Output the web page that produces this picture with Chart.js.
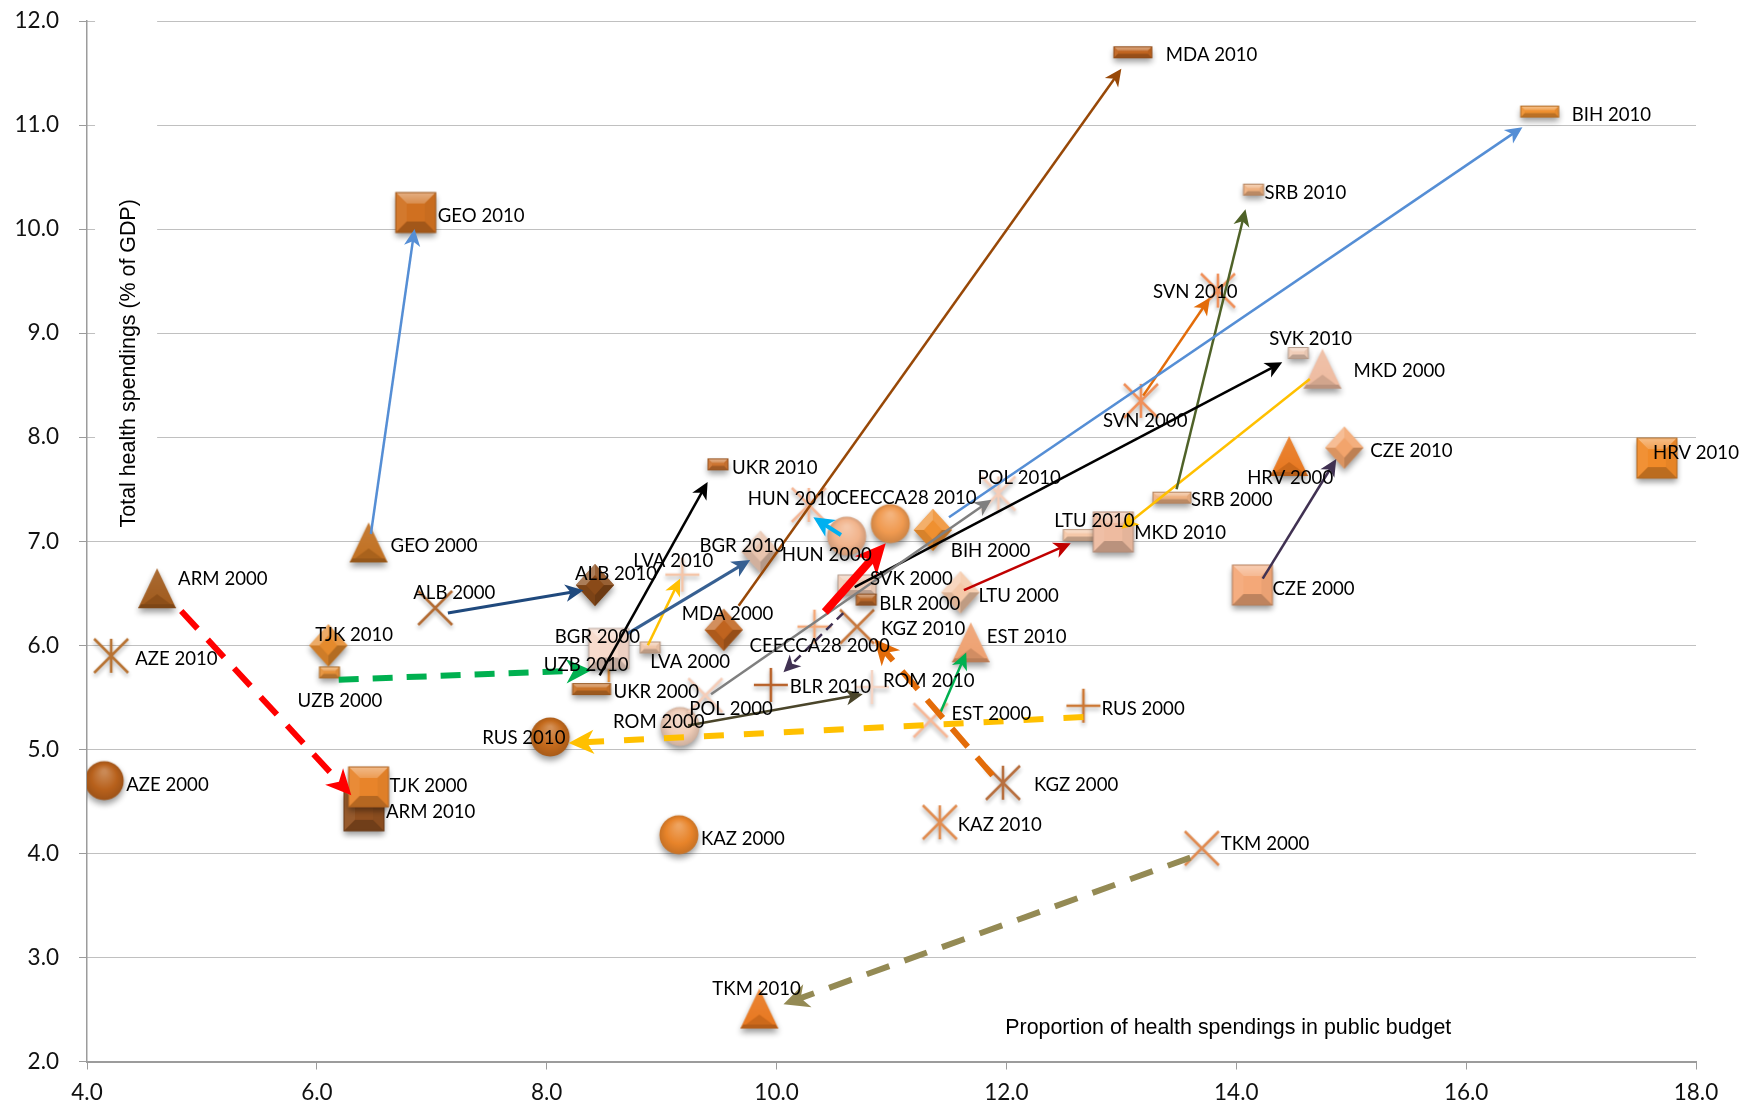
<!DOCTYPE html>
<html>
<head>
<meta charset="utf-8">
<title>Health spendings 2000-2010</title>
<script src="https://cdn.jsdelivr.net/npm/chart.js@4"></script>
<style>
  html, body { margin: 0; padding: 0; background: #fff; }
  canvas { display: block; }
</style>
</head>
<body>
<canvas id="chart" width="1740" height="1103"></canvas>
<script>
// values
const countries = ["AZE","ARM","GEO","TJK","UZB","UKR","ALB","BGR","LVA","MDA","RUS","ROM","POL","KAZ","TKM","HUN","CEECCA28","BIH","SVK","BLR","KGZ","LTU","EST","MKD","SRB","SVN","HRV","CZE"];
const x2000 = [4.15,4.61,6.45,6.45,6.11,8.39,7.03,8.54,8.90,9.54,12.67,9.16,9.38,9.15,13.70,10.61,10.33,11.36,10.70,10.78,11.97,11.60,11.34,14.75,13.44,13.17,14.46,14.14];
const y2000 = [4.68,6.52,6.96,4.62,5.72,5.56,6.34,5.95,5.96,6.13,5.40,5.20,5.50,4.16,4.03,7.03,6.16,7.09,6.56,6.42,4.66,6.49,5.26,8.63,7.40,8.33,7.79,6.56];
const x2010 = [4.21,6.41,6.86,6.10,8.54,9.49,8.42,9.86,9.18,13.10,8.03,10.83,11.93,11.42,9.85,10.28,10.99,16.64,14.54,9.95,10.70,12.66,11.69,12.93,14.15,13.84,17.66,14.94];
const y2010 = [5.88,4.39,10.14,5.98,5.79,7.72,6.56,6.88,6.66,11.68,5.10,5.58,7.44,4.28,2.48,7.33,7.15,11.11,8.79,5.60,6.16,7.04,6.00,7.07,10.36,9.39,7.78,7.88];

const xTicks = [4,6,8,10,12,14,16,18];
const yTicks = [2,3,4,5,6,7,8,9,10,11,12];

// arrows drawn on top of the scatter, in data units
const arrowFromX = [4.82,6.19,13.60,12.67,11.88,10.42,11.42,6.47,9.67,11.50,8.70,7.14,8.46,8.88,9.43,9.23,10.58,10.56,11.63,10.68,13.19,13.48,14.64,14.23];
const arrowFromY = [6.33,5.67,3.96,5.31,4.75,6.32,5.34,7.07,6.38,7.23,6.11,6.31,5.71,6.00,5.53,5.23,6.31,7.06,6.53,6.56,8.40,7.50,8.56,6.64];
const arrowToX = [6.30,8.39,10.06,8.19,10.85,10.95,11.65,6.85,13.00,16.49,9.77,8.32,9.40,9.16,11.87,10.75,10.06,10.32,12.56,14.40,13.77,14.08,13.00,14.87];
const arrowToY = [4.56,5.76,2.55,5.06,6.06,6.98,5.93,10.00,11.54,10.98,6.82,6.53,7.57,6.64,7.40,5.53,5.74,7.23,6.98,8.72,9.34,10.19,7.12,7.79];

// styles
const arrowColors = ["#ff0000","#00b050","#948a54","#ffc000","#e36c09","#ff0000","#00b050","#558ed5","#984807","#558ed5","#376092","#1f497d","#000000","#ffc000","#7f7f7f","#4a452a","#403152","#00b0f0","#c00000","#000000","#e36c09","#4f6228","#ffc000","#403152"];
const arrowWidths = [6,6,6,6,6,8,2.5,2.5,2.5,2.5,3,3,2.5,2.5,2.5,2.5,2.5,4,2.5,2.5,2.5,2.5,2.5,2.5];
const arrowDashes = [[24,15],[20,14],[24,16],[20,20],[24,14],[],[],[],[],[],[],[],[],[],[],[],[9,6],[],[],[],[],[],[],[]];

const shape2000 = ["circle","tri","tri","square","small","long","x","square","small","diamond","plus","circle","x","circle","x","circle","plus","diamond","wide","small","star","diamond","x","tri","long","star","tri","square"];
const shape2010 = ["star","square","square","diamond","plus","small","diamond","diamond","plus","long","circle","plus","star","star","tri","star","circle","long","small","plus","x","long","tri","square","small","star","square","diamond"];
const color2000 = ["#b8611c","#a05a1c","#c06f20","#e8842a","#e59038","#c87228","#b36b33","#f7d9ca","#f0c5a8","#c0641f","#cc7733","#f0cdb8","#f5cdb8","#e8842a","#e08a50","#f2b48c","#f4a878","#ef9030","#f0cdb8","#b8682a","#b87040","#f5c8a8","#f6b898","#eebba0","#eeb080","#f0905a","#e8771f","#f4a878"];
const color2010 = ["#b87333","#8f4f20","#d07020","#e58a2c","#e59038","#cc7430","#8a4a18","#e8c4ae","#f5c5a8","#c0641f","#c46a1c","#f5d5c5","#f5cdb8","#e08c50","#e8771f","#f5b898","#f09a50","#ef9030","#f0cdb8","#b8622a","#c87a40","#f5c8a8","#eea070","#eebba0","#eeb080","#f0905a","#f08a28","#f2a46c"];

// where each label sits, in pixels from its marker (left edge, middle of text)
const labelDx2000 = [22,21,22,21,-32,22,-22,-54,0,-42,18,-67,-16,22,19,-65,-65,18,13,13,31,18,21,31,19,-38,-42,20];
const labelDy2000 = [2,-13,0,-3,26,0,-17,-14,12,-18,1,-7,11,2,-7,16,17,19,-8,2,0,1,-9,-1,0,18,18,2];
const labelDx2010 = [24,22,22,-13,-65,14,-20,-61,-49,33,-68,11,-21,18,-47,-61,-54,32,-29,19,24,-28,16,21,11,-65,-4,26];
const labelDy2010 = [1,-1,1,-13,-3,1,-13,-8,-16,0,-1,-8,-18,0,-23,-8,-28,1,-16,0,0,-17,-9,-1,1,-1,-8,1];

const labelFont = '20px Lato';
const labelSquash = 0.93;
const titleFont = '21.4px "Liberation Sans"';

function shade(hex, f) {
  const n = parseInt(hex.slice(1), 16);
  const c = [n >> 16, (n >> 8) & 255, n & 255].map(v => {
    const t = f > 0 ? v + (255 - v) * f : v * (1 + f);
    return Math.round(t);
  });
  return `rgb(${c[0]},${c[1]},${c[2]})`;
}

function poly(c, pts, fill) {
  c.beginPath();
  pts.forEach((p, i) => i ? c.lineTo(p[0], p[1]) : c.moveTo(p[0], p[1]));
  c.closePath();
  c.fillStyle = fill;
  c.fill();
}

// the glossy markers are little canvases, chart.js takes them as pointStyle
function bevelBox(c, w, h, b, col) {
  const L = -w / 2, R = w / 2, T = -h / 2, B = h / 2;
  c.shadowColor = 'rgba(0,0,0,0.4)'; c.shadowBlur = 6; c.shadowOffsetY = 4;
  poly(c, [[L,T],[R,T],[R,B],[L,B]], col);
  c.shadowColor = 'transparent';
  const g = c.createLinearGradient(0, T, 0, T + b);
  g.addColorStop(0, shade(col, 0.45)); g.addColorStop(1, shade(col, 0.2));
  poly(c, [[L,T],[R,T],[R-b,T+b],[L+b,T+b]], g);
  poly(c, [[L,T],[L+b,T+b],[L+b,B-b],[L,B]], shade(col, 0.06));
  poly(c, [[R,T],[R-b,T+b],[R-b,B-b],[R,B]], shade(col, -0.04));
  poly(c, [[L,B],[L+b,B-b],[R-b,B-b],[R,B]], shade(col, -0.22));
  c.strokeStyle = shade(col, -0.25); c.lineWidth = 1;
  c.strokeRect(L, T, w, h);
}

function makeMarker(shape, col) {
  const cv = document.createElement('canvas');
  cv.width = 72; cv.height = 72;
  const c = cv.getContext('2d');
  c.translate(36, 34);
  if (shape === 'square') bevelBox(c, 40, 40, 11, col);
  else if (shape === 'wide') bevelBox(c, 38, 20, 5, col);
  else if (shape === 'long') bevelBox(c, 38, 11, 4, col);
  else if (shape === 'small') bevelBox(c, 20, 11, 4, col);
  else if (shape === 'circle') {
    c.shadowColor = 'rgba(0,0,0,0.4)'; c.shadowBlur = 6; c.shadowOffsetY = 4;
    const g = c.createRadialGradient(0, -9, 2, 0, 0, 20);
    g.addColorStop(0, shade(col, 0.25)); g.addColorStop(0.6, col); g.addColorStop(1, shade(col, -0.15));
    c.beginPath(); c.arc(0, 0, 19.5, 0, Math.PI * 2); c.fillStyle = g; c.fill();
  } else if (shape === 'diamond') {
    c.shadowColor = 'rgba(0,0,0,0.4)'; c.shadowBlur = 6; c.shadowOffsetY = 4;
    poly(c, [[0,-21],[19,0],[0,21],[-19,0]], col);
    c.shadowColor = 'transparent';
    poly(c, [[0,-21],[19,0],[9,0],[0,-10]], shade(col, 0.12));
    poly(c, [[0,-21],[-19,0],[-9,0],[0,-10]], shade(col, 0.28));
    poly(c, [[0,21],[19,0],[9,0],[0,10]], shade(col, -0.22));
    poly(c, [[0,21],[-19,0],[-9,0],[0,10]], shade(col, -0.1));
  } else if (shape === 'tri') {
    c.shadowColor = 'rgba(0,0,0,0.4)'; c.shadowBlur = 6; c.shadowOffsetY = 4;
    const g = c.createLinearGradient(0, -21, 0, 19);
    g.addColorStop(0, shade(col, 0.1)); g.addColorStop(1, col);
    poly(c, [[0,-21],[19,19],[-19,19]], g);
    c.shadowColor = 'transparent';
    poly(c, [[0,5],[19,19],[-19,19]], shade(col, -0.12));
    poly(c, [[-19,19],[19,19],[16,15],[-16,15]], shade(col, -0.22));
  } else {
    // x, plus and star are thin strokes
    c.shadowColor = 'rgba(0,0,0,0.3)'; c.shadowBlur = 4; c.shadowOffsetY = 3;
    c.strokeStyle = col; c.lineWidth = 2.6;
    c.beginPath();
    if (shape !== 'plus') { c.moveTo(-17,-17); c.lineTo(17,17); c.moveTo(17,-17); c.lineTo(-17,17); }
    if (shape !== 'x') { c.moveTo(0,-17); c.lineTo(0,17); }
    if (shape === 'plus') { c.moveTo(-17,0); c.lineTo(17,0); }
    c.stroke();
  }
  return cv;
}

function headLength(w) { return 11 + w * 2.4; }

const arrowPlugin = {
  id: 'arrowHeads',
  // pull the end of each line back so it does not poke through the head
  beforeDatasetsDraw(chart) {
    const { x, y } = chart.scales;
    arrowColors.forEach((col, i) => {
      const pts = chart.getDatasetMeta(i + 2).data;
      const tx = x.getPixelForValue(arrowToX[i]), ty = y.getPixelForValue(arrowToY[i]);
      const fx = x.getPixelForValue(arrowFromX[i]), fy = y.getPixelForValue(arrowFromY[i]);
      const a = Math.atan2(ty - fy, tx - fx), back = headLength(arrowWidths[i]) * 0.6;
      pts[1].x = tx - Math.cos(a) * back;
      pts[1].y = ty - Math.sin(a) * back;
    });
  },
  afterDatasetsDraw(chart) {
    const c = chart.ctx, { x, y } = chart.scales;
    arrowColors.forEach((col, i) => {
      const tx = x.getPixelForValue(arrowToX[i]), ty = y.getPixelForValue(arrowToY[i]);
      const fx = x.getPixelForValue(arrowFromX[i]), fy = y.getPixelForValue(arrowFromY[i]);
      const len = headLength(arrowWidths[i]), half = len * 0.48;
      c.save();
      c.translate(tx, ty);
      c.rotate(Math.atan2(ty - fy, tx - fx));
      poly(c, [[0,0],[-len,half],[-len * 0.72,0],[-len,-half]], col);
      c.restore();
    });
  }
};

const textPlugin = {
  id: 'pointText',
  // the title of the y axis sits on a white box that cuts the grid lines
  beforeDatasetsDraw(chart) {
    const c = chart.ctx, { x, y } = chart.scales;
    const l = x.getPixelForValue(4.07), r = x.getPixelForValue(4.61);
    c.fillStyle = '#fff';
    c.fillRect(l, y.getPixelForValue(12) - 2, r - l, y.getPixelForValue(8) - y.getPixelForValue(12) + 4);
  },
  afterDatasetsDraw(chart) {
    const c = chart.ctx, { x, y } = chart.scales;
    c.save();
    c.fillStyle = '#000';
    c.font = labelFont;
    c.textAlign = 'left';
    c.textBaseline = 'middle';
    const put = (txt, px, py) => {
      c.save();
      c.translate(px, py);
      c.scale(labelSquash, 1);
      c.fillText(txt, 0, 0);
      c.restore();
    };
    countries.forEach((name, i) => {
      put(name + ' 2000', x.getPixelForValue(x2000[i]) + labelDx2000[i], y.getPixelForValue(y2000[i]) + labelDy2000[i]);
      put(name + ' 2010', x.getPixelForValue(x2010[i]) + labelDx2010[i], y.getPixelForValue(y2010[i]) + labelDy2010[i]);
    });
    c.font = titleFont;
    c.textAlign = 'center';
    c.fillText('Proportion of health spendings in public budget', x.getPixelForValue(13.93), y.getPixelForValue(2.32));
    c.translate(x.getPixelForValue(4.37), y.getPixelForValue(8.71));
    c.rotate(-Math.PI / 2);
    c.fillText('Total health spendings (% of GDP)', 0, 0);
    c.restore();
  }
};

const pointSets = [
  { label: '2000', xs: x2000, ys: y2000, shapes: shape2000, cols: color2000 },
  { label: '2010', xs: x2010, ys: y2010, shapes: shape2010, cols: color2010 }
].map(s => ({
  type: 'scatter',
  label: s.label,
  data: s.xs.map((v, i) => ({ x: v, y: s.ys[i] })),
  pointStyle: s.shapes.map((sh, i) => makeMarker(sh, s.cols[i])),
  pointRadius: 20,
  showLine: false,
  order: 2
}));

const arrowSets = arrowColors.map((col, i) => ({
  type: 'scatter',
  label: 'arrow ' + i,
  data: [{ x: arrowFromX[i], y: arrowFromY[i] }, { x: arrowToX[i], y: arrowToY[i] }],
  showLine: true,
  borderColor: col,
  borderWidth: arrowWidths[i],
  borderDash: arrowDashes[i],
  pointRadius: 0,
  order: 1
}));

// no room kept for the ends of the tick labels, the plot box is fixed
const noPadding = a => { a.paddingTop = 0; a.paddingBottom = 0; a.paddingLeft = 0; a.paddingRight = 0; };

new Chart(document.getElementById('chart'), {
  data: { datasets: pointSets.concat(arrowSets) },
  plugins: [arrowPlugin, textPlugin],
  options: {
    responsive: false,
    animation: false,
    layout: { padding: { top: 19, right: 44, bottom: 0, left: 0 } },
    plugins: { legend: { display: false }, tooltip: { enabled: false } },
    scales: {
      x: {
        type: 'linear',
        min: 4, max: 18,
        afterBuildTicks: a => { a.ticks = xTicks.map(v => ({ value: v })); },
        afterFit: a => { a.height = 41.5; noPadding(a); },
        border: { color: '#9c9c9c', width: 2 },
        grid: { drawOnChartArea: false, color: '#9c9c9c', tickLength: 8 },
        ticks: { font: { family: 'Lato', size: 22.5 }, color: '#111', padding: 10, maxRotation: 0, autoSkip: false, callback: v => v.toFixed(1) }
      },
      y: {
        type: 'linear',
        min: 2, max: 12,
        afterBuildTicks: a => { a.ticks = yTicks.map(v => ({ value: v })); },
        afterFit: a => { a.width = 87; noPadding(a); },
        border: { color: '#9c9c9c', width: 1.5, dash: [1, 1] },
        grid: { color: '#808080', lineWidth: 1, tickLength: 8, tickColor: '#9c9c9c', tickBorderDash: [] },
        ticks: { font: { family: 'Lato', size: 22.5 }, color: '#111', padding: 20, autoSkip: false, callback: v => v.toFixed(1) }
      }
    }
  }
});
</script>
</body>
</html>
